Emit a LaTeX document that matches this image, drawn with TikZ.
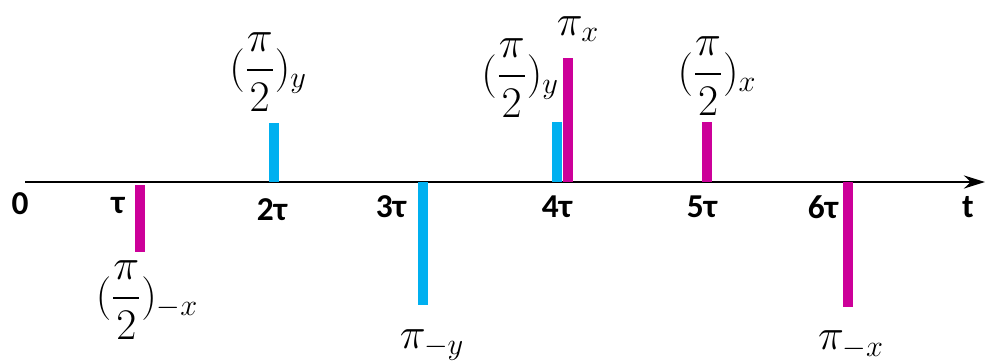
\documentclass[tikz,border=0pt]{standalone}
\usepackage{amsmath}
\usepackage[no-math]{fontspec}
\setmainfont{Carlito}
\usetikzlibrary{positioning, arrows.meta}
\definecolor{pulsecyan}{HTML}{00B0F0}
\definecolor{pulsemag}{HTML}{CC0099}

\begin{document}
\begin{tikzpicture}[
        x=0.02cm, y=0.02cm,
        tick/.style={font=\fontsize{19}{22}\selectfont\bfseries, inner sep=0pt},
        pulse/.style={line width=0.2cm},
        plabel/.style={font=\fontsize{24}{28}\selectfont, inner sep=0pt}
    ]
        \useasboundingbox (0,0) rectangle (985,363);

        % Eixo do tempo
        \coordinate (start) at (25,181);
        \coordinate (end) at (985,181);
        \draw[line width=1.6pt, -{Stealth[length=0.42cm, width=0.26cm]}] (start) -- (end);

        % Marcas
        \node[tick] (t0) at (20,159) {0};
        \node[tick] (t1) at (118,157) {τ};
        \node[tick] (t2) at (272,153) {2τ};
        \node[tick] (t3) at (391,156) {3τ};
        \node[tick] (t4) at (557,156) {4τ};
        \node[tick] (t5) at (702,156) {5τ};
        \node[tick] (t6) at (823,156) {6τ};
        \node[tick] (tt) at (968,156) {t};

        % Pulsos
        \coordinate (a1) at (140,178);  \coordinate (b1) at (140,111);
        \coordinate (a2) at (274,181);  \coordinate (b2) at (274,240);
        \coordinate (a3) at (423,181);  \coordinate (b3) at (423,58);
        \coordinate (a4) at (557,181);  \coordinate (b4) at (557,241);
        \coordinate (a4x) at (568,181); \coordinate (b4x) at (568,305);
        \coordinate (a5) at (707,181);  \coordinate (b5) at (707,241);
        \coordinate (a6) at (848,181);  \coordinate (b6) at (848,56);

        \draw[pulse, pulsemag] (a1) -- (b1);
        \draw[pulse, pulsecyan] (a2) -- (b2);
        \draw[pulse, pulsecyan] (a3) -- (b3);
        \draw[pulse, pulsecyan] (a4) -- (b4);
        \draw[pulse, pulsemag] (a4x) -- (b4x);
        \draw[pulse, pulsemag] (a5) -- (b5);
        \draw[pulse, pulsemag] (a6) -- (b6);

        % Rotulos dos pulsos
        \node[plabel] (p1) at (147,63) {$(\dfrac{\pi}{2})_{-x}$};
        \node[plabel] (p2) at (268,291) {$(\dfrac{\pi}{2})_{y}$};
        \node[plabel] (p3) at (432,18) {$\pi_{-y}$};
        \node[plabel] (p4) at (520,285) {$(\dfrac{\pi}{2})_{y}$};
        \node[plabel] (p4x) at (578,334) {$\pi_{x}$};
        \node[plabel] (p5) at (717,287) {$(\dfrac{\pi}{2})_{x}$};
        \node[plabel] (p6) at (851,18) {$\pi_{-x}$};
    \end{tikzpicture}
\end{document}
